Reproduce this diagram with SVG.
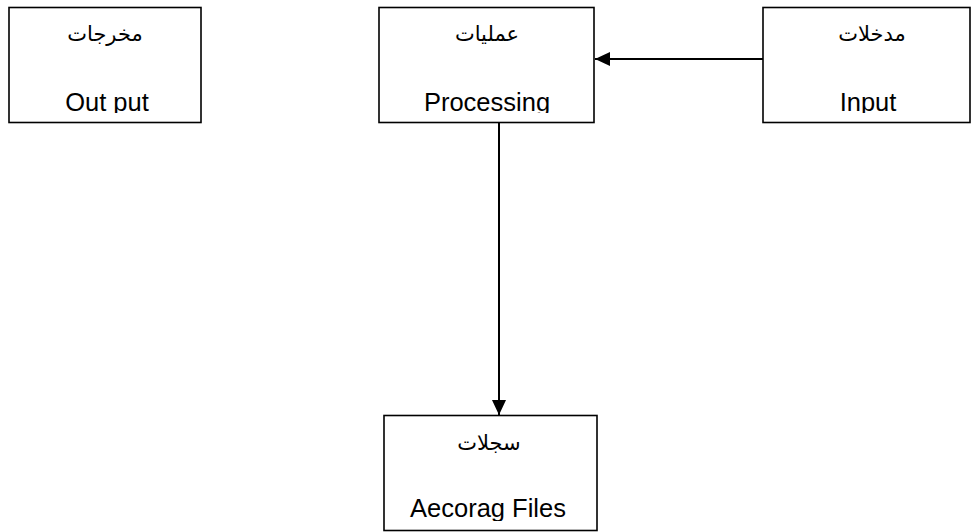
<svg xmlns="http://www.w3.org/2000/svg" width="971" height="532" viewBox="0 0 971 532">
<style>
.box{fill:#fff;stroke:#000;stroke-width:1.6}
.en{font-family:"Liberation Sans",Arial,sans-serif;font-size:25.5px;fill:#000;text-anchor:middle}
.ar{font-family:"DejaVu Sans","Liberation Sans",sans-serif;font-size:21px;fill:#000;text-anchor:middle}
.edge{stroke:#000;stroke-width:2;fill:none}
</style>
<defs>
<clipPath id="cA" clipPathUnits="userSpaceOnUse"><rect x="9" y="8" width="192" height="105"/></clipPath>
<clipPath id="cB" clipPathUnits="userSpaceOnUse"><rect x="379" y="8" width="215" height="105"/></clipPath>
<clipPath id="cC" clipPathUnits="userSpaceOnUse"><rect x="763" y="8" width="207" height="105"/></clipPath>
<clipPath id="cD" clipPathUnits="userSpaceOnUse"><rect x="384" y="416" width="213" height="105"/></clipPath>
<marker id="arr" markerUnits="userSpaceOnUse" markerWidth="16" markerHeight="14" refX="15" refY="7" orient="auto">
<path d="M0,0 L15,7 L0,14 Z" fill="#000"/>
</marker>
</defs>
<g id="node-output">
<rect class="box" x="9" y="7.5" width="192" height="115"/>
<g clip-path="url(#cA)">
<text class="ar" x="105" y="41">مخرجات</text>
<text class="en" x="107" y="110.5">Out put</text>
</g>
</g>
<g id="node-processing">
<rect class="box" x="379" y="7.5" width="215" height="115"/>
<g clip-path="url(#cB)">
<text class="ar" x="487" y="41">عمليات</text>
<text class="en" x="487" y="110.5">Processing</text>
</g>
</g>
<g id="node-input">
<rect class="box" x="763" y="7.5" width="207" height="115"/>
<g clip-path="url(#cC)">
<text class="ar" x="872" y="41">مدخلات</text>
<text class="en" x="868" y="110.5">Input</text>
</g>
</g>
<g id="node-records">
<rect class="box" x="384" y="415.5" width="213" height="115"/>
<g clip-path="url(#cD)">
<text class="ar" x="489" y="450">سجلات</text>
<text class="en" x="488" y="517">Aecorag Files</text>
</g>
</g>
<g id="connectors">
<line class="edge" x1="763" y1="59" x2="595" y2="59" marker-end="url(#arr)"/>
<line class="edge" x1="499" y1="122.5" x2="499" y2="415" marker-end="url(#arr)"/>
</g>
</svg>
